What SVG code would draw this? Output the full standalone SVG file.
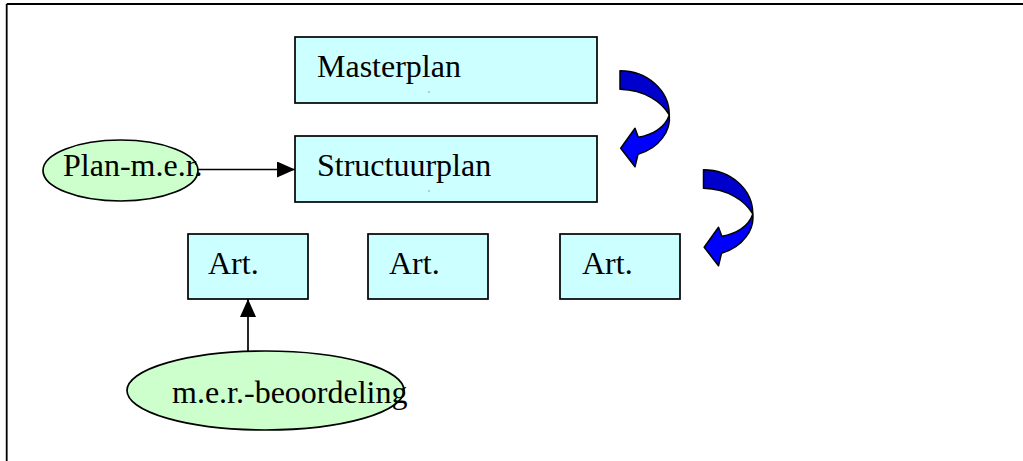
<svg xmlns="http://www.w3.org/2000/svg" xmlns:xlink="http://www.w3.org/1999/xlink" width="1023" height="461" viewBox="0 0 1023 461">
<style>
.box{fill:#CCFFFF;stroke:#000;stroke-width:1.7}
.ell{fill:#CCFFCC;stroke:#000;stroke-width:1.7}
.t{font-family:"Liberation Serif","Times New Roman",serif;font-size:32px;fill:#000}
.edge{stroke:#000;stroke-width:1.7;fill:none}
.dk{fill:#0000CC;stroke:#000;stroke-width:1.5;stroke-linejoin:round}
.lt{fill:#0000FF;stroke:#000;stroke-width:1.5;stroke-linejoin:round}
.tick{stroke:#999;stroke-width:1}
</style>
<defs>
<marker id="ah" markerWidth="18" markerHeight="16" refX="18" refY="8" orient="auto" markerUnits="userSpaceOnUse">
<path d="M0,0 L18,8 L0,16 Z" fill="#000"/>
</marker>
<g id="curved">
<path class="dk" d="M620,70.7 C647,70.7 669.3,90 669.3,115 C662,102 645,90 620,89.3 Z"/>
<path class="lt" d="M669.3,115 C671,130 660,148 638,154.3 L635,166.7 L620.7,148.3 L635,128.3 L638.3,137.3 C652,135 665,128 669.3,115 Z"/>
</g>
</defs>
<rect width="1023" height="461" fill="#fff"/>
<g id="frame">
<line x1="6.7" y1="4" x2="1023" y2="4" stroke="#000" stroke-width="1.8"/>
<line x1="6.7" y1="4" x2="6.7" y2="461" stroke="#000" stroke-width="1.8"/>
</g>
<g id="connectors">
<line class="edge" x1="198" y1="169.5" x2="295" y2="169.5" marker-end="url(#ah)"/>
<line class="edge" x1="248" y1="365" x2="248" y2="299" marker-end="url(#ah)"/>
<use xlink:href="#curved" href="#curved"/>
<use xlink:href="#curved" href="#curved" transform="translate(83.5,99)"/>
</g>
<g id="masterplan">
<rect class="box" x="295" y="37" width="302" height="66"/>
<text class="t" x="317" y="77">Masterplan</text>
<line class="tick" x1="428" y1="92" x2="430" y2="92"/>
</g>
<g id="structuurplan">
<rect class="box" x="295" y="136" width="302" height="66"/>
<text class="t" x="317" y="176">Structuurplan</text>
<line class="tick" x1="428" y1="191" x2="430" y2="191"/>
</g>
<g id="planmer">
<ellipse class="ell" cx="120.5" cy="170.5" rx="77.5" ry="30.5"/>
<text class="t" x="63" y="176">Plan-m.e.r.</text>
</g>
<g id="art1">
<rect class="box" x="188" y="234" width="120" height="65"/>
<text class="t" x="208" y="274">Art.</text>
</g>
<g id="art2">
<rect class="box" x="368" y="234" width="120" height="65"/>
<text class="t" x="389" y="274">Art.</text>
</g>
<g id="art3">
<rect class="box" x="560" y="234" width="120" height="65"/>
<text class="t" x="582" y="274">Art.</text>
</g>
<g id="merbeoordeling">
<ellipse class="ell" cx="265.5" cy="390.5" rx="138.5" ry="39.5"/>
<text class="t" x="172" y="403">m.e.r.-beoordeling</text>
</g>
</svg>
